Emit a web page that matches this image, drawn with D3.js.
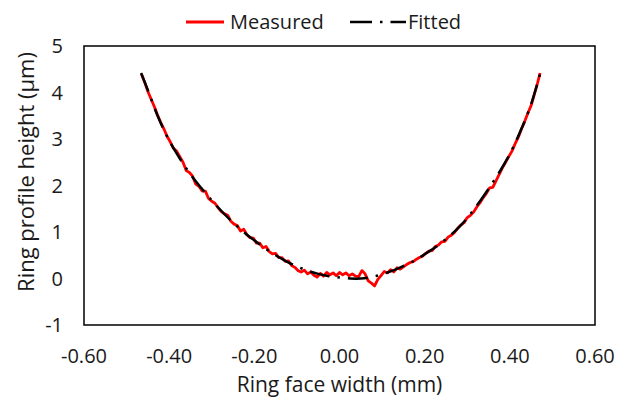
<!DOCTYPE html>
<html>
<head>
<meta charset="utf-8">
<script src="https://cdn.jsdelivr.net/npm/d3@7"></script>
<style>
  body { margin: 0; background: #fff; }
  text { font-family: "Open Sans", sans-serif; fill: #1a1a1a; }
</style>
</head>
<body>
<div id="chart"></div>
<script>
// tick labels
const xTicks = [-0.6, -0.4, -0.2, 0, 0.2, 0.4, 0.6];
const yTicks = [-1, 0, 1, 2, 3, 4, 5];

// fitted profile [x mm, height um]
const fitted = [
  [-0.466, 4.42], [-0.45, 4.05], [-0.425, 3.45], [-0.40, 2.97], [-0.375, 2.58],
  [-0.35, 2.24], [-0.325, 1.95], [-0.30, 1.68], [-0.275, 1.43], [-0.25, 1.20],
  [-0.225, 1.00], [-0.20, 0.82], [-0.175, 0.65], [-0.15, 0.50], [-0.125, 0.37],
  [-0.10, 0.26], [-0.075, 0.17], [-0.05, 0.10], [-0.025, 0.05], [0.00, 0.02],
  [0.025, 0.00], [0.05, 0.00], [0.075, 0.03], [0.10, 0.09], [0.125, 0.17],
  [0.15, 0.27], [0.175, 0.38], [0.20, 0.52], [0.225, 0.67], [0.25, 0.85],
  [0.275, 1.05], [0.30, 1.30], [0.325, 1.60], [0.35, 1.93], [0.375, 2.28],
  [0.40, 2.68], [0.425, 3.17], [0.45, 3.75], [0.471, 4.40]
];

// measured profile
const measured = [
  [-0.465, 4.40], [-0.4575, 4.22], [-0.45, 4.02], [-0.4425, 3.86], [-0.435, 3.70],
  [-0.4275, 3.52], [-0.42, 3.36], [-0.4125, 3.22], [-0.405, 3.06], [-0.3975, 2.94],
  [-0.39, 2.80], [-0.3825, 2.74], [-0.375, 2.62], [-0.3675, 2.50], [-0.36, 2.32],
  [-0.3525, 2.28], [-0.345, 2.20], [-0.3375, 2.03], [-0.33, 1.98], [-0.3225, 1.88],
  [-0.315, 1.88], [-0.3075, 1.72], [-0.30, 1.66], [-0.2925, 1.62], [-0.285, 1.52],
  [-0.2775, 1.44], [-0.27, 1.39], [-0.2625, 1.36], [-0.255, 1.23], [-0.2475, 1.17],
  [-0.24, 1.14], [-0.2325, 1.02], [-0.225, 1.06], [-0.2175, 0.94], [-0.21, 0.88],
  [-0.2025, 0.87], [-0.195, 0.76], [-0.1875, 0.76], [-0.18, 0.66], [-0.1725, 0.69],
  [-0.165, 0.58], [-0.1575, 0.53], [-0.15, 0.54], [-0.1425, 0.45], [-0.135, 0.45],
  [-0.1275, 0.37], [-0.12, 0.38], [-0.1125, 0.28], [-0.105, 0.24], [-0.0975, 0.17],
  [-0.09, 0.14], [-0.0825, 0.18], [-0.075, 0.10], [-0.0675, 0.14], [-0.06, 0.07],
  [-0.0525, 0.03], [-0.045, 0.11], [-0.0375, 0.05], [-0.03, 0.13], [-0.0225, 0.08],
  [-0.015, 0.12], [-0.0075, 0.06], [0.00, 0.13], [0.0075, 0.08], [0.015, 0.12],
  [0.0225, 0.06], [0.03, 0.10], [0.0375, 0.05], [0.045, 0.04], [0.0525, 0.17],
  [0.06, 0.10], [0.0675, -0.05], [0.075, -0.10], [0.0825, -0.16], [0.09, -0.02],
  [0.0975, 0.06], [0.105, 0.15], [0.1125, 0.12], [0.12, 0.19], [0.1275, 0.14],
  [0.135, 0.23], [0.1425, 0.20], [0.15, 0.25], [0.1575, 0.30], [0.165, 0.34],
  [0.1725, 0.36], [0.18, 0.41], [0.1875, 0.45], [0.195, 0.48], [0.2025, 0.54],
  [0.21, 0.59], [0.2175, 0.60], [0.225, 0.69], [0.2325, 0.72], [0.24, 0.79],
  [0.2475, 0.80], [0.255, 0.89], [0.2625, 0.93], [0.27, 0.99], [0.2775, 1.08],
  [0.285, 1.15], [0.2925, 1.20], [0.30, 1.31], [0.3075, 1.36], [0.315, 1.43],
  [0.3225, 1.54], [0.33, 1.63], [0.3375, 1.74], [0.345, 1.83], [0.3525, 1.95],
  [0.36, 1.96], [0.3675, 2.10], [0.375, 2.24], [0.3825, 2.38], [0.39, 2.50],
  [0.3975, 2.62], [0.405, 2.74], [0.4125, 2.90], [0.42, 3.04], [0.4275, 3.22],
  [0.435, 3.38], [0.4425, 3.56], [0.45, 3.72], [0.4575, 3.96], [0.465, 4.20],
  [0.471, 4.42]
];

const width = 644, height = 401;
const margin = { top: 46, right: 49, bottom: 76, left: 84 };

const svg = d3.select("#chart").append("svg")
  .attr("width", width)
  .attr("height", height);

const x = d3.scaleLinear().domain([-0.6, 0.6]).range([margin.left, width - margin.right]);
const y = d3.scaleLinear().domain([-1, 5]).range([height - margin.bottom, margin.top]);

// plot frame
svg.append("rect")
  .attr("x", x(-0.6)).attr("y", y(5))
  .attr("width", x(0.6) - x(-0.6)).attr("height", y(-1) - y(5))
  .attr("fill", "none").attr("stroke", "#000").attr("stroke-width", 1.5);

// tick labels
svg.selectAll(".xt").data(xTicks).enter().append("text")
  .attr("x", d => x(d)).attr("y", y(-1) + 38)
  .attr("text-anchor", "middle").attr("font-size", "20px")
  .text(d => d3.format(".2f")(d).replace("−", "-"));

svg.selectAll(".yt").data(yTicks).enter().append("text")
  .attr("x", x(-0.6) - 21).attr("y", d => y(d)).attr("dy", "0.35em")
  .attr("text-anchor", "end").attr("font-size", "20px")
  .text(d => String(d));

// axis titles
svg.append("text")
  .attr("x", x(0)).attr("y", 392)
  .attr("text-anchor", "middle").attr("font-size", "21px")
  .text("Ring face width (mm)");

svg.append("text")
  .attr("transform", `translate(34,172) rotate(-90)`)
  .attr("text-anchor", "middle").attr("font-size", "22px")
  .text("Ring profile height (μm)");

const line = d3.line().x(d => x(d[0])).y(d => y(d[1]));

svg.append("path").datum(measured)
  .attr("d", line).attr("fill", "none")
  .attr("stroke", "#ff0000").attr("stroke-width", 2.8)
  .attr("stroke-linejoin", "round");

svg.append("path").datum(fitted)
  .attr("d", d3.line().curve(d3.curveCatmullRom).x(d => x(d[0])).y(d => y(d[1])))
  .attr("fill", "none")
  .attr("stroke", "#000").attr("stroke-width", 2.5)
  .attr("stroke-dasharray", "20,8,2.5,8");

// legend
const lg = svg.append("g");
lg.append("line").attr("x1", 186).attr("x2", 224).attr("y1", 22).attr("y2", 22)
  .attr("stroke", "#ff0000").attr("stroke-width", 2.8);
lg.append("text").attr("x", 230).attr("y", 22).attr("dy", "0.35em")
  .attr("font-size", "20px").text("Measured");
lg.append("line").attr("x1", 350).attr("x2", 406).attr("y1", 22).attr("y2", 22)
  .attr("stroke", "#000").attr("stroke-width", 2.5)
  .attr("stroke-dasharray", "22,8,2.5,8");
lg.append("text").attr("x", 408).attr("y", 22).attr("dy", "0.35em")
  .attr("font-size", "20px").text("Fitted");
</script>
</body>
</html>
